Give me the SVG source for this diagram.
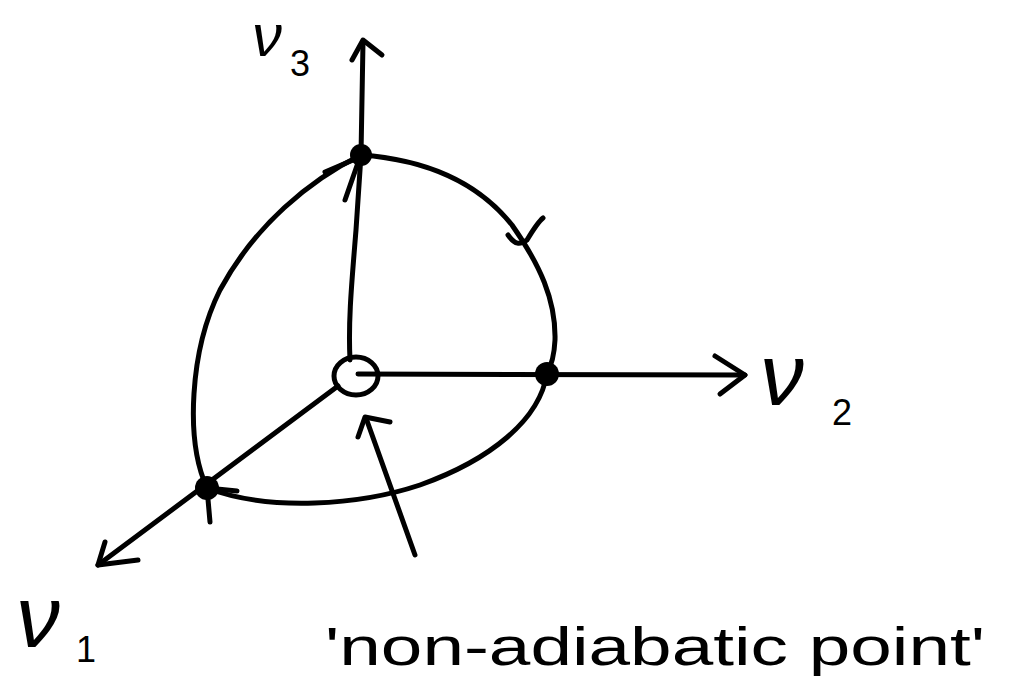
<svg xmlns="http://www.w3.org/2000/svg" width="1011" height="689" viewBox="0 0 1011 689">
<style>
.ln{fill:none;stroke:#000;stroke-width:5;stroke-linecap:round;stroke-linejoin:round}
.dot{fill:#000}
.lbl{font-family:"Liberation Sans",Arial,sans-serif;fill:#000}
</style>
<rect width="1011" height="689" fill="#fff"/>
<g id="connectors">
<path class="ln" d="M350 360 C348 320 352 280 356 230 L361 155 L363 42"/>
<path class="ln" d="M352 60 L363 40 L382 55"/>
<path class="ln" d="M358 374 L745 375"/>
<path class="ln" d="M715 356 L745 375 L720 394"/>
<path class="ln" d="M338 386 L98 565"/>
<path class="ln" d="M105 542 L98 565 L138 560"/>
<path class="ln" d="M361 155 C430 160 480 185 512 225 C540 265 556 300 555 340 C554 360 550 368 547 373 C540 420 490 460 420 485 C360 505 270 512 207 488"/>
<path class="ln" d="M207 488 C185 440 190 350 220 290 C255 225 310 180 361 155"/>
<path class="ln" d="M325 172 L360 157 L345 200"/>
<path class="ln" d="M508 235 C515 245 520 245 527 240 C533 230 538 222 543 218"/>
<path class="ln" d="M237 491 L207 488 L210 522"/>
<path class="ln" d="M415 555 L366 418"/>
<path class="ln" d="M358 437 L365 417 L390 422"/>
</g>
<g id="origin">
<ellipse class="ln" cx="356" cy="376" rx="22" ry="19"/>
</g>
<g id="p3"><circle class="dot" cx="361" cy="155" r="11"/></g>
<g id="p2"><circle class="dot" cx="547" cy="374" r="12"/></g>
<g id="p1"><circle class="dot" cx="207" cy="488" r="12"/></g>
<g id="label-nu3">
<text class="lbl" x="252" y="56" font-size="60" font-style="italic">ν</text>
<text class="lbl" x="290" y="76" font-size="36">3</text>
</g>
<g id="label-nu2">
<text class="lbl" x="760" y="405" font-size="88" font-style="italic">ν</text>
<text class="lbl" x="832" y="425" font-size="36">2</text>
</g>
<g id="label-nu1">
<text class="lbl" x="16" y="647" font-size="88" font-style="italic">ν</text>
<text class="lbl" x="76" y="662" font-size="36">1</text>
</g>
<g id="label-nonadiabatic">
<text class="lbl" x="325" y="665" font-size="54" textLength="660" lengthAdjust="spacingAndGlyphs">'non-adiabatic point'</text>
</g>
</svg>
